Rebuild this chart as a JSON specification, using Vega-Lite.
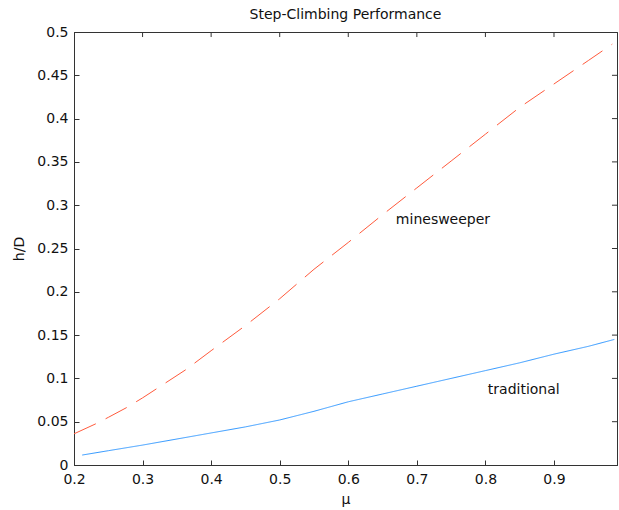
{
  "$schema": "https://vega.github.io/schema/vega-lite/v6.json",
  "width": 543,
  "height": 433,
  "autosize": {"type": "none"},
  "padding": {"left": 74, "top": 32, "right": 2, "bottom": 45},
  "background": "white",
  "config": {
    "view": {"stroke": "#333333", "strokeWidth": 1},
    "font": "DejaVu Sans",
    "axis": {
      "domainColor": "#333333",
      "tickColor": "#333333",
      "tickSize": -5,
      "labelFont": "DejaVu Sans",
      "labelFontSize": 14,
      "labelColor": "#111111",
      "titleFont": "DejaVu Sans",
      "titleFontSize": 14,
      "titleFontWeight": "normal",
      "titleColor": "#111111"
    }
  },
  "title": {"text": "Step-Climbing Performance", "font": "DejaVu Sans", "fontSize": 14, "fontWeight": "normal", "color": "#111111", "offset": 3, "anchor": "middle"},
  "datasets": {
    "curves": [
      {"mu": 0.2, "hD": 0.036, "series": "minesweeper"},
      {"mu": 0.233, "hD": 0.048, "series": "minesweeper"},
      {"mu": 0.25, "hD": 0.055, "series": "minesweeper"},
      {"mu": 0.276, "hD": 0.066, "series": "minesweeper"},
      {"mu": 0.3, "hD": 0.0775, "series": "minesweeper"},
      {"mu": 0.332, "hD": 0.094, "series": "minesweeper"},
      {"mu": 0.363, "hD": 0.11, "series": "minesweeper"},
      {"mu": 0.4, "hD": 0.132, "series": "minesweeper"},
      {"mu": 0.45, "hD": 0.161, "series": "minesweeper"},
      {"mu": 0.5, "hD": 0.192, "series": "minesweeper"},
      {"mu": 0.55, "hD": 0.226, "series": "minesweeper"},
      {"mu": 0.6, "hD": 0.257, "series": "minesweeper"},
      {"mu": 0.65, "hD": 0.289, "series": "minesweeper"},
      {"mu": 0.7, "hD": 0.32, "series": "minesweeper"},
      {"mu": 0.75, "hD": 0.351, "series": "minesweeper"},
      {"mu": 0.8, "hD": 0.382, "series": "minesweeper"},
      {"mu": 0.85, "hD": 0.413, "series": "minesweeper"},
      {"mu": 0.9, "hD": 0.44, "series": "minesweeper"},
      {"mu": 0.95, "hD": 0.467, "series": "minesweeper"},
      {"mu": 0.985, "hD": 0.486, "series": "minesweeper"},
      {"mu": 0.212, "hD": 0.0115, "series": "traditional"},
      {"mu": 0.25, "hD": 0.0165, "series": "traditional"},
      {"mu": 0.3, "hD": 0.023, "series": "traditional"},
      {"mu": 0.35, "hD": 0.03, "series": "traditional"},
      {"mu": 0.4, "hD": 0.037, "series": "traditional"},
      {"mu": 0.45, "hD": 0.044, "series": "traditional"},
      {"mu": 0.5, "hD": 0.052, "series": "traditional"},
      {"mu": 0.55, "hD": 0.062, "series": "traditional"},
      {"mu": 0.6, "hD": 0.073, "series": "traditional"},
      {"mu": 0.65, "hD": 0.082, "series": "traditional"},
      {"mu": 0.7, "hD": 0.091, "series": "traditional"},
      {"mu": 0.75, "hD": 0.1, "series": "traditional"},
      {"mu": 0.8, "hD": 0.109, "series": "traditional"},
      {"mu": 0.85, "hD": 0.118, "series": "traditional"},
      {"mu": 0.9, "hD": 0.128, "series": "traditional"},
      {"mu": 0.95, "hD": 0.137, "series": "traditional"},
      {"mu": 0.988, "hD": 0.145, "series": "traditional"}
    ],
    "labels": [
      {"mu": 0.6694, "hD": 0.278, "label": "minesweeper"},
      {"mu": 0.8035, "hD": 0.082, "label": "traditional"}
    ],
    "topTicks": [
      {"mu": 0.3, "hD": 0.5, "inner": 0.4942},
      {"mu": 0.4, "hD": 0.5, "inner": 0.4942},
      {"mu": 0.5, "hD": 0.5, "inner": 0.4942},
      {"mu": 0.6, "hD": 0.5, "inner": 0.4942},
      {"mu": 0.7, "hD": 0.5, "inner": 0.4942},
      {"mu": 0.8, "hD": 0.5, "inner": 0.4942},
      {"mu": 0.9, "hD": 0.5, "inner": 0.4942}
    ],
    "rightTicks": [
      {"hD": 0.05, "mu": 0.9919, "inner": 0.9846},
      {"hD": 0.1, "mu": 0.9919, "inner": 0.9846},
      {"hD": 0.15, "mu": 0.9919, "inner": 0.9846},
      {"hD": 0.2, "mu": 0.9919, "inner": 0.9846},
      {"hD": 0.25, "mu": 0.9919, "inner": 0.9846},
      {"hD": 0.3, "mu": 0.9919, "inner": 0.9846},
      {"hD": 0.35, "mu": 0.9919, "inner": 0.9846},
      {"hD": 0.4, "mu": 0.9919, "inner": 0.9846},
      {"hD": 0.45, "mu": 0.9919, "inner": 0.9846}
    ]
  },
  "layer": [
    {
      "data": {"name": "curves"},
      "mark": {"type": "line", "strokeWidth": 1, "clip": true},
      "encoding": {
        "x": {"field": "mu", "type": "quantitative", "scale": {"domain": [0.2, 0.9919], "nice": false, "zero": false},
              "axis": {"orient": "bottom", "values": [0.2, 0.3, 0.4, 0.5, 0.6, 0.7, 0.8, 0.9, 0.9919], "format": "~g",
                       "labelExpr": "datum.value > 0.95 ? '' : datum.label",
                       "grid": true, "gridWidth": 1,
                       "gridColor": {"condition": {"test": "datum.value > 0.95", "value": "#333333"}, "value": "transparent"},
                       "labelPadding": 12, "title": "μ", "titlePadding": 6, "labelFlush": false}},
        "y": {"field": "hD", "type": "quantitative", "scale": {"domain": [0, 0.5], "nice": false, "zero": false},
              "axis": {"orient": "left", "values": [0, 0.05, 0.1, 0.15, 0.2, 0.25, 0.3, 0.35, 0.4, 0.45, 0.5], "format": "~g",
                       "grid": true, "gridWidth": 1,
                       "gridColor": {"condition": {"test": "datum.value > 0.49", "value": "#333333"}, "value": "transparent"},
                       "labelPadding": 11, "title": "h/D", "titlePadding": 10, "labelFlush": false}},
        "color": {"field": "series", "type": "nominal", "scale": {"domain": ["minesweeper", "traditional"], "range": ["#ff5a3c", "#3399ff"]}, "legend": null},
        "strokeDash": {"field": "series", "type": "nominal", "scale": {"domain": ["minesweeper", "traditional"], "range": [[24, 11], [1, 0]]}, "legend": null}
      }
    },
    {
      "data": {"name": "topTicks"},
      "mark": {"type": "rule", "color": "#333333", "strokeWidth": 1},
      "encoding": {
        "x": {"field": "mu", "type": "quantitative"},
        "y": {"field": "hD", "type": "quantitative"},
        "y2": {"field": "inner"}
      }
    },
    {
      "data": {"name": "rightTicks"},
      "mark": {"type": "rule", "color": "#333333", "strokeWidth": 1},
      "encoding": {
        "y": {"field": "hD", "type": "quantitative"},
        "x": {"field": "mu", "type": "quantitative"},
        "x2": {"field": "inner"}
      }
    },
    {
      "data": {"name": "labels"},
      "mark": {"type": "text", "align": "left", "baseline": "alphabetic", "font": "DejaVu Sans", "fontSize": 14, "color": "#111111"},
      "encoding": {
        "x": {"field": "mu", "type": "quantitative"},
        "y": {"field": "hD", "type": "quantitative"},
        "text": {"field": "label"}
      }
    }
  ]
}
